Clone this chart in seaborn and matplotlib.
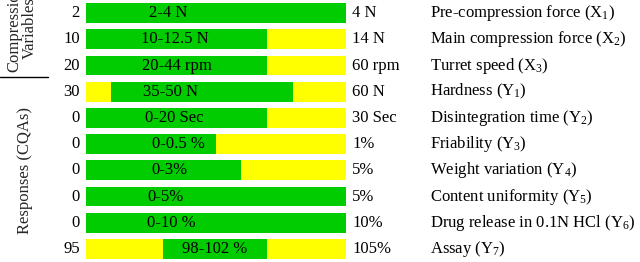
import matplotlib
matplotlib.use("Agg")
import matplotlib.pyplot as plt
import matplotlib.transforms as mtransforms
import seaborn as sns
import pandas as pd

# ---- data ----
parameters = [
    "Pre-compression force (X$_1$)",
    "Main compression force (X$_2$)",
    "Turret speed (X$_3$)",
    "Hardness (Y$_1$)",
    "Disintegration time (Y$_2$)",
    "Friability (Y$_3$)",
    "Weight variation (Y$_4$)",
    "Content uniformity (Y$_5$)",
    "Drug release in 0.1N HCl (Y$_6$)",
    "Assay (Y$_7$)",
]
lower_labels = ["2", "10", "20", "30", "0", "0", "0", "0", "0", "95"]
upper_labels = ["4 N", "14 N", "60 rpm", "60 N", "30 Sec", "1%", "5%", "5%", "10%", "105%"]
range_labels = ["2-4 N", "10-12.5 N", "20-44 rpm", "35-50 N", "0-20 Sec",
                "0-0.5 %", "0-3%", "0-5%", "0-10 %", "98-102 %"]
# acceptable (green) band, as % of the bar length
green_start = [0, 0, 0, 9.5, 0, 0, 0, 0, 0, 29.6]
green_end = [100, 69.7, 69.7, 79.5, 69.7, 50, 59.6, 100, 100, 69.7]
full_scale = [100] * 10

df = pd.DataFrame({
    "param": parameters,
    "full": full_scale,
    "gstart": green_start,
    "gend": green_end,
})

# ---- style ----
sns.set_theme(style="white")
plt.rcParams["font.family"] = ["Liberation Serif", "DejaVu Serif"]
plt.rcParams["mathtext.fontset"] = "custom"
plt.rcParams["mathtext.rm"] = "Liberation Serif"
plt.rcParams["mathtext.it"] = "Liberation Serif:italic"
FS = 12
GREEN = "#00CC00"
YELLOW = "#FFFF00"

W, H = 640, 262
fig = plt.figure(figsize=(W / 100, H / 100), dpi=100)
ax = fig.add_axes([86 / W, 0, 260 / W, 1])

bw = 0.75
sns.barplot(data=df, y="param", x="full", orient="h", color=YELLOW,
            width=bw, saturation=1, ax=ax, edgecolor="none", linewidth=0)
sns.barplot(data=df, y="param", x="gend", orient="h", color=GREEN,
            width=bw, saturation=1, ax=ax, edgecolor="none", linewidth=0)
sns.barplot(data=df, y="param", x="gstart", orient="h", color=YELLOW,
            width=bw, saturation=1, ax=ax, edgecolor="none", linewidth=0)

ax.set_xlim(0, 100)
ax.set_ylim(len(parameters) - 0.5, -0.5)
ax.axis("off")

# label positions (layout, in % of bar)
label_x = [31.5, 34, 35, 32.5, 34, 35.5, 32, 30.5, 33, 49.5]

tr = mtransforms.blended_transform_factory(fig.transFigure, ax.transData)
for i in range(len(parameters)):
    ax.text(label_x[i], i, range_labels[i], ha="center", va="center",
            fontsize=FS, color="black")
    ax.text(80 / W, i, lower_labels[i], transform=tr, ha="right",
            va="center", fontsize=FS, color="black")
    ax.text(352 / W, i, upper_labels[i], transform=tr, ha="left",
            va="center", fontsize=FS, color="black")
    ax.text(430 / W, i, parameters[i], transform=tr, ha="left",
            va="center", fontsize=FS, color="black")

# group labels
fig.text(22 / W, 1 - 28 / H, "Compression\nVariables", rotation=90,
         ha="center", va="center", fontsize=FS, linespacing=0.95)
fig.text(25 / W, 1 - 170 / H, "Responses (CQAs)", rotation=90,
         ha="center", va="center", fontsize=FS)
fig.add_artist(plt.Line2D([0, 48 / W], [1 - 76.7 / H, 1 - 76.7 / H],
                          transform=fig.transFigure, color="black", lw=1))

fig.savefig("out.png", dpi=100, facecolor="white")
